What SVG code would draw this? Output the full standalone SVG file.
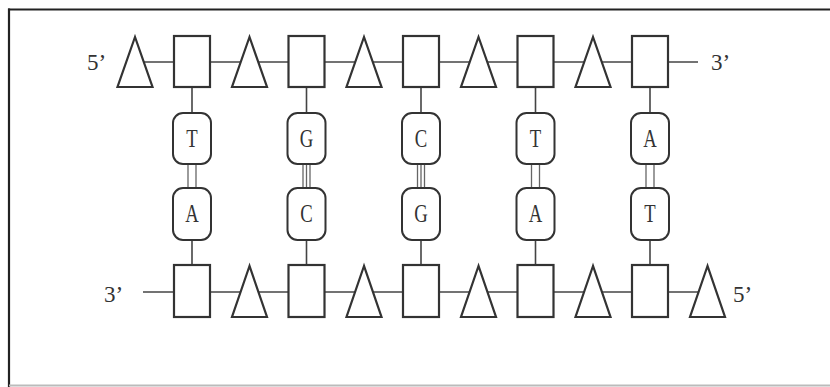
<svg xmlns="http://www.w3.org/2000/svg" width="830" height="387" viewBox="0 0 830 387">
  <style>
    .bb { fill: none; stroke: #222; stroke-width: 2.2; }
    .shape { fill: #fff; stroke: #333; stroke-width: 2.2; }
    .line { stroke: #444; stroke-width: 1.6; fill: none; }
    .hb { stroke: #666; stroke-width: 1.3; fill: none; }
    .base { fill: #fff; stroke: #333; stroke-width: 2; }
    .end { font-family: "Liberation Serif", "DejaVu Serif", serif; font-size: 23px; fill: #333; }
    .letter { font-family: "Liberation Serif", "DejaVu Serif", serif; font-size: 26px; fill: #333; text-anchor: middle; }
  </style>

  <!-- frame -->
  <g id="frame">
    <line class="bb" x1="8" y1="9.5" x2="830" y2="9.5"/>
    <line class="bb" x1="9" y1="8.5" x2="9" y2="387"/>
    <line x1="9" y1="385.5" x2="830" y2="385.5" stroke="#bbb" stroke-width="2"/>
  </g>

  <!-- backbones, stems and hydrogen bonds -->
  <g id="connectors">
    <line class="line" x1="140" y1="62" x2="698" y2="62"/>
    <line class="line" x1="143" y1="292" x2="700" y2="292"/>
    <!-- stems -->
    <line class="line" x1="192" y1="87" x2="192" y2="113"/>
    <line class="line" x1="192" y1="240" x2="192" y2="264"/>
    <line class="line" x1="306.5" y1="87" x2="306.5" y2="113"/>
    <line class="line" x1="306.5" y1="240" x2="306.5" y2="264"/>
    <line class="line" x1="421" y1="87" x2="421" y2="113"/>
    <line class="line" x1="421" y1="240" x2="421" y2="264"/>
    <line class="line" x1="535.5" y1="87" x2="535.5" y2="113"/>
    <line class="line" x1="535.5" y1="240" x2="535.5" y2="264"/>
    <line class="line" x1="650" y1="87" x2="650" y2="113"/>
    <line class="line" x1="650" y1="240" x2="650" y2="264"/>
    <!-- A-T: two bonds, G-C: three bonds -->
    <line class="hb" x1="188" y1="164" x2="188" y2="188"/>
    <line class="hb" x1="196" y1="164" x2="196" y2="188"/>
    <line class="hb" x1="303" y1="164" x2="303" y2="188"/>
    <line class="hb" x1="306.5" y1="164" x2="306.5" y2="188"/>
    <line class="hb" x1="310" y1="164" x2="310" y2="188"/>
    <line class="hb" x1="417.5" y1="164" x2="417.5" y2="188"/>
    <line class="hb" x1="421" y1="164" x2="421" y2="188"/>
    <line class="hb" x1="424.5" y1="164" x2="424.5" y2="188"/>
    <line class="hb" x1="531.5" y1="164" x2="531.5" y2="188"/>
    <line class="hb" x1="539.5" y1="164" x2="539.5" y2="188"/>
    <line class="hb" x1="646" y1="164" x2="646" y2="188"/>
    <line class="hb" x1="654" y1="164" x2="654" y2="188"/>
  </g>

  <!-- top strand: phosphate triangles and sugar squares -->
  <g id="top-strand">
    <text class="end" x="87" y="70">5’</text>
    <polygon class="shape" points="135,37 117.5,87 152.5,87"/>
    <rect class="shape" x="174" y="36" width="36" height="51"/>
    <polygon class="shape" points="249.5,37 232,87 267,87"/>
    <rect class="shape" x="288.5" y="36" width="36" height="51"/>
    <polygon class="shape" points="364,37 346.5,87 381.5,87"/>
    <rect class="shape" x="403" y="36" width="36" height="51"/>
    <polygon class="shape" points="478.5,37 461,87 496,87"/>
    <rect class="shape" x="517.5" y="36" width="36" height="51"/>
    <polygon class="shape" points="593,37 575.5,87 610.5,87"/>
    <rect class="shape" x="632" y="36" width="36" height="51"/>
    <text class="end" x="711" y="70">3’</text>
  </g>

  <!-- bottom strand -->
  <g id="bottom-strand">
    <text class="end" x="104" y="302">3’</text>
    <rect class="shape" x="174" y="265" width="36" height="52"/>
    <polygon class="shape" points="249.5,266 232,317 267,317"/>
    <rect class="shape" x="288.5" y="265" width="36" height="52"/>
    <polygon class="shape" points="364,266 346.5,317 381.5,317"/>
    <rect class="shape" x="403" y="265" width="36" height="52"/>
    <polygon class="shape" points="478.5,266 461,317 496,317"/>
    <rect class="shape" x="517.5" y="265" width="36" height="52"/>
    <polygon class="shape" points="593,266 575.5,317 610.5,317"/>
    <rect class="shape" x="632" y="265" width="36" height="52"/>
    <polygon class="shape" points="707.5,266 690,317 725,317"/>
    <text class="end" x="733" y="302">5’</text>
  </g>

  <!-- base pairs -->
  <g id="pair-1">
    <rect class="base" x="173" y="113" width="38" height="51" rx="10"/>
    <text class="letter" transform="translate(192,147) scale(0.72,1)">T</text>
    <rect class="base" x="173" y="188" width="38" height="52" rx="10"/>
    <text class="letter" transform="translate(192,222) scale(0.72,1)">A</text>
  </g>
  <g id="pair-2">
    <rect class="base" x="287.5" y="113" width="38" height="51" rx="10"/>
    <text class="letter" transform="translate(306.5,147) scale(0.72,1)">G</text>
    <rect class="base" x="287.5" y="188" width="38" height="52" rx="10"/>
    <text class="letter" transform="translate(306.5,222) scale(0.72,1)">C</text>
  </g>
  <g id="pair-3">
    <rect class="base" x="402" y="113" width="38" height="51" rx="10"/>
    <text class="letter" transform="translate(421,147) scale(0.72,1)">C</text>
    <rect class="base" x="402" y="188" width="38" height="52" rx="10"/>
    <text class="letter" transform="translate(421,222) scale(0.72,1)">G</text>
  </g>
  <g id="pair-4">
    <rect class="base" x="516.5" y="113" width="38" height="51" rx="10"/>
    <text class="letter" transform="translate(535.5,147) scale(0.72,1)">T</text>
    <rect class="base" x="516.5" y="188" width="38" height="52" rx="10"/>
    <text class="letter" transform="translate(535.5,222) scale(0.72,1)">A</text>
  </g>
  <g id="pair-5">
    <rect class="base" x="631" y="113" width="38" height="51" rx="10"/>
    <text class="letter" transform="translate(650,147) scale(0.72,1)">A</text>
    <rect class="base" x="631" y="188" width="38" height="52" rx="10"/>
    <text class="letter" transform="translate(650,222) scale(0.72,1)">T</text>
  </g>
</svg>
